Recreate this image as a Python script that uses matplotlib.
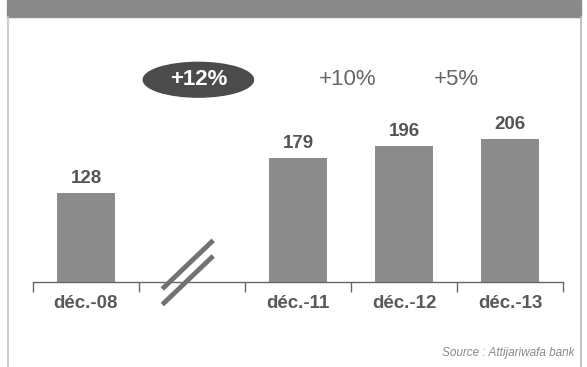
import matplotlib

matplotlib.use("Agg")
import matplotlib.pyplot as plt
from matplotlib.patches import Ellipse, Rectangle
from matplotlib.lines import Line2D

plt.rcParams["font.family"] = ["Liberation Sans", "DejaVu Sans"]

# categories on the axis (slot 1 is the broken gap between 2008 and 2011)
categories = ["déc.-08", "", "déc.-11", "déc.-12", "déc.-13"]
bar_slots = [0, 2, 3, 4]
bar_values = [128, 179, 196, 206]
bar_labels = ["déc.-08", "déc.-11", "déc.-12", "déc.-13"]

# growth rates shown between consecutive bars
growth_labels = ["+12%", "+10%", "+5%"]
growth_slots = [1.56, 2.97, 3.99]

source = "Source : Attijariwafa bank"

W, H = 587, 367
fig = plt.figure(figsize=(W / 100, H / 100), dpi=100)
fig.patch.set_facecolor("white")

# grey title band and frame lines
fig.patches.append(Rectangle((7 / W, 1 - 17 / H), 574 / W, 17 / H,
                             transform=fig.transFigure, color="#8a8a8a", zorder=0))
fig.lines.append(Line2D([7.5 / W, 7.5 / W], [0, 1 - 17 / H], transform=fig.transFigure,
                        color="#c4c4c4", lw=1.2))
fig.lines.append(Line2D([580.5 / W, 580.5 / W], [0, 1 - 17 / H], transform=fig.transFigure,
                        color="#b8b8b8", lw=1.2))

ax = fig.add_axes([33 / W, (H - 282) / H, 530 / W, 208.5 / H])
ax.set_xlim(0, len(categories))
ax.set_ylim(0, 300)

xs = [s + 0.5 for s in bar_slots]
ax.bar(xs, bar_values, width=0.55, color="#8b8b8b", edgecolor="none", zorder=2)

for x, v in zip(xs, bar_values):
    ax.text(x, v + 8, str(v), ha="center", va="bottom", fontsize=13.5,
            fontweight="bold", color="#555555")

for x, lab in zip(xs, bar_labels):
    ax.text(x, -31, lab, ha="center", va="center", fontsize=13.5,
            fontweight="bold", color="#5a5a5a", clip_on=False)

# growth annotations, the first one in a dark pill
for i, (x, lab) in enumerate(zip(growth_slots, growth_labels)):
    if i == 0:
        ax.add_patch(Ellipse((x, 291), 1.04, 50, color="#4b4b4b",
                             clip_on=False, zorder=3))
        ax.text(x, 291, lab, ha="center", va="center", fontsize=16,
                fontweight="bold", color="white", zorder=4, clip_on=False)
    else:
        ax.text(x, 292, lab, ha="center", va="center", fontsize=16,
                color="#666666", clip_on=False)

# axis line with downward ticks at category boundaries
for side in ["left", "right", "top"]:
    ax.spines[side].set_visible(False)
ax.spines["bottom"].set_color("#666666")
ax.spines["bottom"].set_linewidth(1.0)
ax.set_xticks(range(len(categories) + 1))
ax.set_xticklabels([])
ax.tick_params(axis="x", direction="out", length=7, width=1.0, color="#666666")
ax.set_yticks([])
ax.patch.set_alpha(0)

# axis break marks
for dy in [0, -22.5]:
    ax.plot([1.22, 1.70], [-10 + dy, 60 + dy], color="#727272", lw=3.5,
            solid_capstyle="butt", clip_on=False, zorder=5)

fig.text(575 / W, 1 - 353 / H, source, ha="right", va="center", fontsize=8.5,
         style="italic", color="#8a8a8a")

fig.savefig("out.png", dpi=100)
